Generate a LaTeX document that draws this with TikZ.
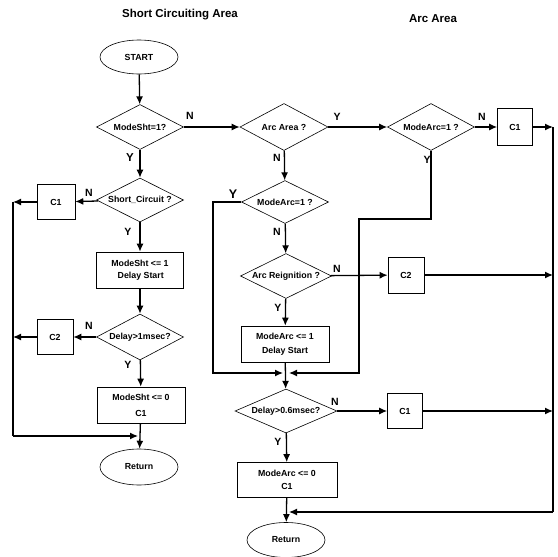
\documentclass[tikz,border=0pt]{standalone}
\usepackage{fontspec}
\setmainfont{Liberation Sans}
\usetikzlibrary{shapes.geometric,arrows.meta}
\tikzset{
  every node/.style={font=\bfseries\fontsize{8.8}{10}\selectfont},
  dia/.style={draw,line width=0.6pt,diamond,aspect=2,inner sep=0pt,minimum width=87pt,minimum height=45pt},
  box/.style={draw,line width=0.6pt,rectangle,inner sep=0pt,align=center},
  term/.style={draw,line width=0.6pt,ellipse,inner sep=0pt,minimum width=78pt,minimum height=34pt},
  conn/.style={line width=1.3pt},
  arr/.style={line width=1.3pt,-{Latex[length=8pt,width=7pt]}},
  lab/.style={font=\bfseries\fontsize{10.5}{11}\selectfont,inner sep=0pt},
  ttl/.style={font=\bfseries\fontsize{11.5}{13}\selectfont}
}
\begin{document}
\begin{tikzpicture}[x=1pt,y=-1pt]
\useasboundingbox (0,0) rectangle (558,557);
% titles
\node[ttl] (t1) at (180,15) {Short Circuiting Area};
\node[ttl] (t2) at (433,19) {Arc Area};
% left column
\node[term] (start) at (139,57) {START};
\node[dia] (d1) at (140,127) {ModeSht=1?};
\node[dia,minimum height=44pt] (d4) at (140,200) {Short\_Circuit ?};
\node[box,minimum width=38pt,minimum height=35pt] (c1b) at (56,202) {C1};
\node[box,minimum width=87pt,minimum height=36pt] (b1) at (140,270) {ModeSht <= 1\\[2pt]\,Delay Start};
\node[dia,minimum height=46pt] (d5) at (140,337) {Delay>1msec?};
\node[box,minimum width=36pt,minimum height=35pt] (c2a) at (55,337) {C2};
\node[box,minimum width=88pt,minimum height=36pt] (b2) at (141,405) {ModeSht <= 0\\[6pt]C1};
\node[term,minimum height=36pt] (ret1) at (139,467) {Return};
% middle column
\node[dia,minimum width=88pt,minimum height=47pt] (d2) at (284,127) {Arc Area ?};
\node[dia,minimum height=43pt] (d6) at (285,202) {ModeArc=1 ?};
\node[dia,minimum width=91pt,minimum height=45pt] (d7) at (286,276) {Arc Reignition ?};
\node[box,minimum width=88pt,minimum height=36pt] (b3) at (285,344) {ModeArc <= 1\\[4pt]Delay Start};
\node[dia,minimum width=102pt,minimum height=44pt] (d8) at (286,411) {Delay>0.6msec?};
\node[box,minimum width=100pt,minimum height=35pt] (b4) at (287,480) {ModeArc <= 0\\[3pt]C1};
\node[term,minimum height=35pt] (ret2) at (286,540) {Return};
% right column
\node[dia,minimum height=47pt] (d3) at (431,127) {ModeArc=1 ?};
\node[box,minimum width=35pt,minimum height=37pt] (c1a) at (515,127) {C1};
\node[box,minimum width=36pt,minimum height=36pt] (c2b) at (406,275) {C2};
\node[box,minimum width=35pt,minimum height=35pt] (c1c) at (405,411) {C1};
% coordinates
\coordinate (L1) at (13,202);
\coordinate (L2) at (13,337);
\coordinate (L3) at (13,436);
\coordinate (L4) at (138,436);
\coordinate (R1) at (553,127);
\coordinate (R2) at (553,275);
\coordinate (R3) at (553,411);
\coordinate (R4) at (553,512);
\coordinate (M4) at (289,512);
\coordinate (P1) at (431,219);
\coordinate (P2) at (359,219);
\coordinate (P3) at (359,373);
\coordinate (P4) at (289,373);
\coordinate (Q1) at (213,202);
\coordinate (Q2) at (213,373);
\coordinate (Q3) at (283,373);
% connectors left
\draw[arr] (start) -- (d1);
\draw[arr] (d1) -- (d4);
\draw[arr] (d4) -- (c1b);
\draw[arr] (c1b) -- (L1);
\draw[arr] (d4) -- (b1);
\draw[arr] (b1) -- (d5);
\draw[arr] (d5) -- (c2a);
\draw[arr] (c2a) -- (L2);
\draw[arr] (d5) -- (b2);
\draw[arr] (b2) -- (ret1);
\draw[conn] (L1) -- (L3);
\draw[arr] (L3) -- (L4);
% connectors middle
\draw[arr] (d1) -- (d2);
\draw[arr] (d2) -- (d3);
\draw[arr] (d2) -- (d6);
\draw[arr] (d6) -- (d7);
\draw[arr] (d7) -- (c2b);
\draw[arr] (d7) -- (b3);
\draw[arr] (b3) -- (d8);
\draw[arr] (d8) -- (c1c);
\draw[arr] (d8) -- (b4);
\draw[arr] (b4) -- (ret2);
\draw[arr] (d6.west) -- (Q1) -- (Q2) -- (Q3);
\draw[arr] (d3.south) -- (P1) -- (P2) -- (P3) -- (P4);
% connectors right
\draw[arr] (d3) -- (c1a);
\draw[arr] (c1a) -- (R1);
\draw[arr] (c2b) -- (R2);
\draw[arr] (c1c) -- (R3);
\draw[conn] (R1) -- (R4);
\draw[arr] (R4) -- (M4);
% labels
\node[lab] (n1) at (190,116) {N};
\node[lab,font=\bfseries\fontsize{11.5}{12}\selectfont] (y1) at (130,158) {Y};
\node[lab] (n2) at (89,193) {N};
\node[lab] (y2) at (128,232) {Y};
\node[lab] (n3) at (89,326) {N};
\node[lab] (y3) at (128,365) {Y};
\node[lab] (y4) at (337,117) {Y};
\node[lab] (n4) at (277,158) {N};
\node[lab] (n5) at (482,117) {N};
\node[lab] (y5) at (427,160) {Y};
\node[lab,font=\bfseries\fontsize{12.5}{13}\selectfont] (y6) at (233,194) {Y};
\node[lab] (n6) at (277,232) {N};
\node[lab] (n7) at (337,269) {N};
\node[lab] (y7) at (278,308) {Y};
\node[lab] (n8) at (335,402) {N};
\node[lab] (y8) at (278,442) {Y};
\end{tikzpicture}
\end{document}
